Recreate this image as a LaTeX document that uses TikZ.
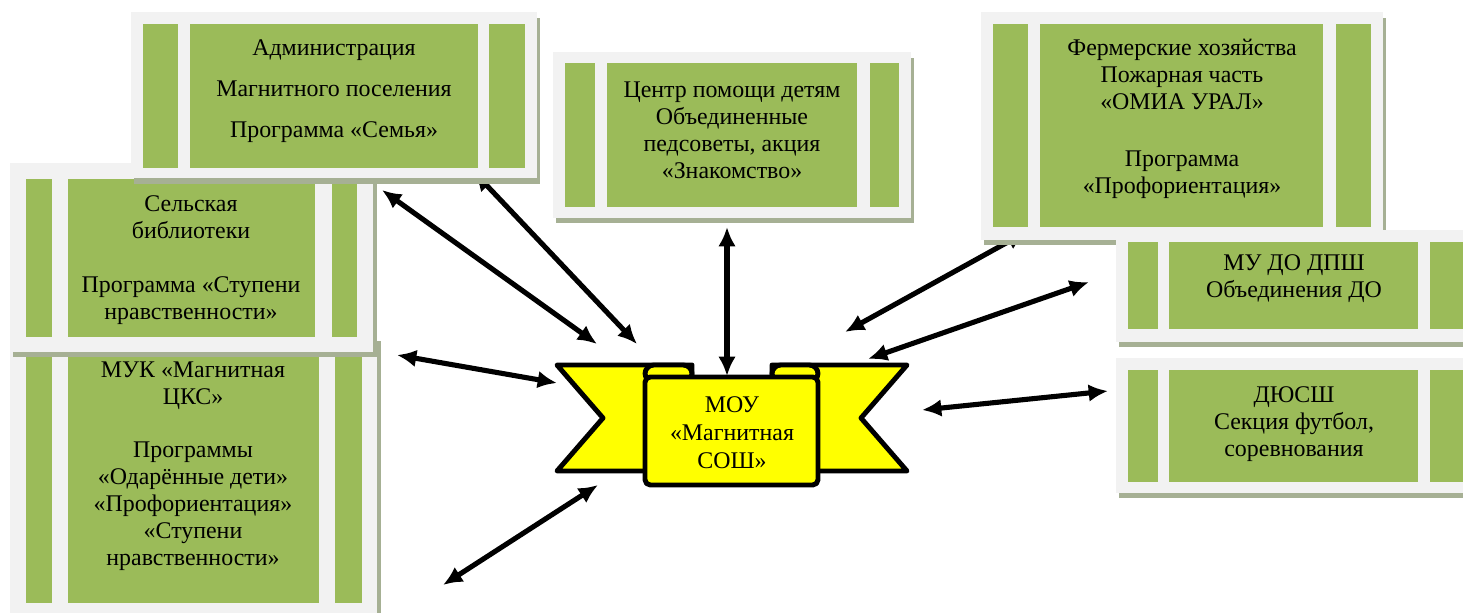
\documentclass[tikz,border=0pt]{standalone}
\usepackage{fontspec}
\setmainfont{Liberation Serif}
\usetikzlibrary{arrows.meta}
\definecolor{stripgreen}{RGB}{155,187,89}
\definecolor{framegray}{RGB}{242,242,242}
\definecolor{shadowgray}{RGB}{166,176,148}
\definecolor{ribbonyellow}{RGB}{255,255,0}
\tikzset{
  boxshadow/.style={fill=shadowgray},
  boxframe/.style={fill=framegray},
  boxstrip/.style={fill=stripgreen},
  boxtext/.style={align=center, inner sep=0pt, font=\fontsize{13.6}{15.3}\selectfont},
  link/.style={line width=2.9pt, {Latex[length=11pt,width=10pt]}-{Latex[length=11pt,width=10pt]}},
  ribbon/.style={fill=ribbonyellow, draw=black, line width=2.8pt, line join=round}
}
\begin{document}
\begin{tikzpicture}[x=0.02cm,y=-0.02cm]
  \useasboundingbox (0,0) rectangle (1463,612);
  \clip (0,0) rectangle (1463,612);

  % free ends of the links
  \coordinate (libend) at (382,190);
  \coordinate (admend) at (474,172);
  \coordinate (ctrend) at (727,227);
  \coordinate (farmend) at (1026,232);
  \coordinate (dpshend) at (1089,282);
  \coordinate (sportend) at (1108,391);
  \coordinate (mukend) at (397,355);
  \coordinate (mukend2) at (443,585);
  \coordinate (mou-a) at (597,344);
  \coordinate (mou-b) at (637,344);
  \coordinate (mou-c) at (727,376);
  \coordinate (mou-d) at (845,332);
  \coordinate (mou-e) at (868,359);
  \coordinate (mou-f) at (922,410);
  \coordinate (mou-g) at (557,383);
  \coordinate (mou-h) at (598,485);

  \draw [link] (libend) -- (mou-a);
  \draw [link] (admend) -- (mou-b);
  \draw [link] (ctrend) -- (mou-c);
  \draw [link] (farmend) -- (mou-d);
  \draw [link] (dpshend) -- (mou-e);
  \draw [link] (sportend) -- (mou-f);
  \draw [link] (mukend) -- (mou-g);
  \draw [link] (mukend2) -- (mou-h);

  % МУК
  \fill [boxshadow] (13,341) rectangle (381,620);
  \fill [boxframe] (10,335) rectangle (377,620);
  \fill [boxstrip] (26,351) rectangle (52,603);
  \fill [boxstrip] (68,351) rectangle (319,603);
  \fill [boxstrip] (335,351) rectangle (362,603);
  \node [boxtext] (muk) at (193,466) {МУК «Магнитная\\ЦКС»\\[15.3pt]Программы\\«Одарённые дети»\\«Профориентация»\\«Ступени\\нравственности»};

  % библиотека
  \fill [boxshadow] (13,169) rectangle (377,357);
  \fill [boxframe] (10,163) rectangle (373,352);
  \fill [boxstrip] (26,179) rectangle (52,337);
  \fill [boxstrip] (68,179) rectangle (315,337);
  \fill [boxstrip] (332,179) rectangle (357,337);
  \node [boxtext] (lib) at (191,260) {Сельская\\библиотеки\\[15.3pt]Программа «Ступени\\нравственности»};

  % администрация
  \fill [boxshadow] (134,18) rectangle (540,184);
  \fill [boxframe] (131,12) rectangle (537,178);
  \fill [boxstrip] (143,24) rectangle (178,168);
  \fill [boxstrip] (190,24) rectangle (478,168);
  \fill [boxstrip] (489,24) rectangle (525,168);
  \node [boxtext, font=\fontsize{13.6}{23.5}\selectfont] (adm) at (334,91) {Администрация\\Магнитного поселения\\Программа «Семья»};

  % центр помощи
  \fill [boxshadow] (556,58) rectangle (914,223);
  \fill [boxframe] (553,52) rectangle (911,218);
  \fill [boxstrip] (565,63) rectangle (595,207);
  \fill [boxstrip] (607,63) rectangle (857,207);
  \fill [boxstrip] (870,63) rectangle (899,207);
  \node [boxtext] (ctr) at (732,130) {Центр помощи детям\\Объединенные\\педсоветы, акция\\«Знакомство»};

  % фермерские хозяйства
  \fill [boxshadow] (984,18) rectangle (1386,245);
  \fill [boxframe] (981,12) rectangle (1383,240);
  \fill [boxstrip] (993,24) rectangle (1028,227);
  \fill [boxstrip] (1040,24) rectangle (1323,227);
  \fill [boxstrip] (1336,24) rectangle (1371,227);
  \node [boxtext] (farm) at (1182,119) {Фермерские хозяйства\\Пожарная часть\\«ОМИА УРАЛ»\\[17pt]Программа\\«Профориентация»};

  % ДПШ
  \fill [boxshadow] (1119,236) rectangle (1490,347);
  \fill [boxframe] (1116,230) rectangle (1490,342);
  \fill [boxstrip] (1128,242) rectangle (1158,329);
  \fill [boxstrip] (1169,242) rectangle (1418,329);
  \fill [boxstrip] (1430,242) rectangle (1480,329);
  \node [boxtext] (dpsh) at (1294,279) {МУ ДО ДПШ\\Объединения ДО};

  % ДЮСШ
  \fill [boxshadow] (1119,364) rectangle (1490,498);
  \fill [boxframe] (1116,358) rectangle (1490,493);
  \fill [boxstrip] (1128,370) rectangle (1158,482);
  \fill [boxstrip] (1169,370) rectangle (1418,482);
  \fill [boxstrip] (1430,370) rectangle (1480,482);
  \node [boxtext] (sport) at (1294,424) {ДЮСШ\\Секция футбол,\\соревнования};

  % лента МОУ
  \filldraw [ribbon] (557,365) -- (692,365) -- (692,471) -- (557,471) -- (603,418) -- cycle;
  \filldraw [ribbon] (907,365) -- (772,365) -- (772,471) -- (907,471) -- (861,418) -- cycle;
  \filldraw [ribbon, rounded corners=5pt] (645,365) rectangle (692,382);
  \filldraw [ribbon, rounded corners=5pt] (772,365) rectangle (818,382);
  \filldraw [ribbon, rounded corners=3pt] (645,377) rectangle (818,485);
  \node [boxtext, font=\fontsize{13.6}{16}\selectfont] (mou) at (732,433) {МОУ\\«Магнитная\\СОШ»};
\end{tikzpicture}
\end{document}
